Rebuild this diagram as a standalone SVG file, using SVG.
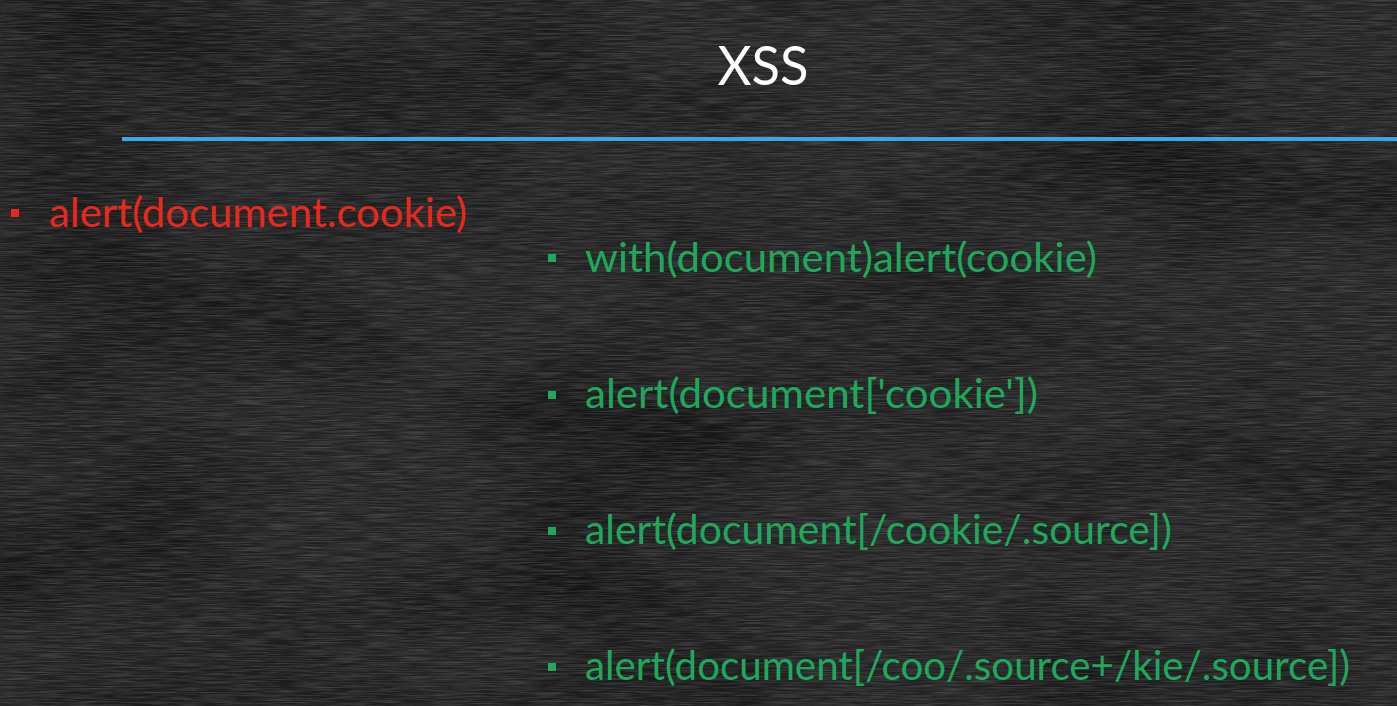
<svg xmlns="http://www.w3.org/2000/svg" width="1397" height="706" viewBox="0 0 1397 706">
<defs>
<filter id="chalk" x="0" y="0" width="100%" height="100%">
<feTurbulence type="fractalNoise" baseFrequency="0.03 0.8" numOctaves="3" seed="4"/>
<feColorMatrix type="matrix" values="0 0 0 0 1  0 0 0 0 1  0 0 0 0 1  0 0 0 0.3 -0.1"/>
</filter>
<filter id="smudge" x="0" y="0" width="100%" height="100%">
<feTurbulence type="fractalNoise" baseFrequency="0.004 0.008" numOctaves="2" seed="9"/>
<feColorMatrix type="matrix" values="0 0 0 0 0  0 0 0 0 0  0 0 0 0 0  0 0 0 -0.9 0.55"/>
</filter>
<style>
.t{font-family:Lato,"Open Sans","Liberation Sans",sans-serif;font-size:40px}
.red{fill:#e8281c}
.grn{fill:#1ea85c}
</style>
</defs>
<rect width="1397" height="706" fill="#232323"/>
<rect width="1397" height="706" filter="url(#smudge)"/>
<rect width="1397" height="706" filter="url(#chalk)"/>
<g id="title">
<text x="763" y="85" text-anchor="middle" font-family="Lato,'Open Sans','Liberation Sans',sans-serif" font-size="54" fill="#ffffff" textLength="91" lengthAdjust="spacingAndGlyphs">XSS</text>
<rect x="122" y="137" width="1275" height="4" fill="#3aa7de"/>
</g>
<g id="item-red">
<rect x="11" y="209" width="8" height="8" class="red"/>
<text x="49" y="227" class="t red" textLength="418" lengthAdjust="spacingAndGlyphs">alert(document.cookie)</text>
</g>
<g id="item-1">
<rect x="548" y="254" width="8" height="8" class="grn"/>
<text x="585" y="272" class="t grn" textLength="512" lengthAdjust="spacingAndGlyphs">with(document)alert(cookie)</text>
</g>
<g id="item-2">
<rect x="548" y="391" width="8" height="8" class="grn"/>
<text x="585" y="408" class="t grn" textLength="453" lengthAdjust="spacingAndGlyphs">alert(document['cookie'])</text>
</g>
<g id="item-3">
<rect x="548" y="527" width="8" height="8" class="grn"/>
<text x="585" y="544" class="t grn" textLength="587" lengthAdjust="spacingAndGlyphs">alert(document[/cookie/.source])</text>
</g>
<g id="item-4">
<rect x="548" y="663" width="8" height="8" class="grn"/>
<text x="585" y="680" class="t grn" textLength="765" lengthAdjust="spacingAndGlyphs">alert(document[/coo/.source+/kie/.source])</text>
</g>
</svg>
